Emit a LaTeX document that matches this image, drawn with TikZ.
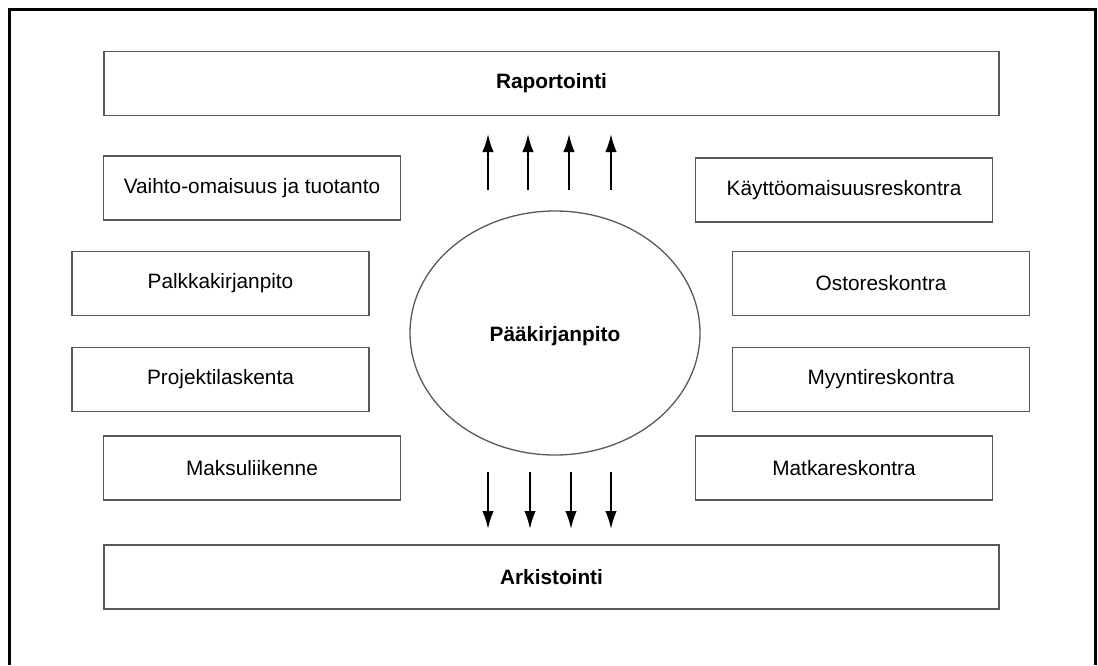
\documentclass[tikz,border=0pt]{standalone}
\usepackage{fontspec}
\setmainfont{Liberation Sans}
\usetikzlibrary{arrows.meta,shapes.geometric}

\begin{document}
\begin{tikzpicture}[x=1pt, y=-1pt, >={Latex[length=18pt,width=11.5pt]},
		txt/.style={font=\fontsize{20.8}{24}\selectfont},
		box/.style={txt, draw=black!65, line width=1.3pt, inner sep=0pt, minimum width=297pt, minimum height=64pt},
		wide/.style={box, minimum width=895pt, font=\fontsize{20.8}{24}\selectfont\bfseries},
		flow/.style={->, line width=2pt}]
		\useasboundingbox (0, 0) rectangle (1098, 665);
		\draw[line width=3pt] (9, 665) -- (9, 9) -- (1095, 9) -- (1095, 665);
		
		\node[wide] (raport) at (551.5, 83.5) {Raportointi};
		\node[wide] (arkist) at (551.5, 577) {Arkistointi};
		
		\node[box] (vaihto) at (252, 188) {Vaihto-omaisuus ja tuotanto};
		\node[box] (palkka) at (220.5, 283.5) {Palkkakirjanpito};
		\node[box] (projekti) at (220.5, 379.5) {Projektilaskenta};
		\node[box] (maksu) at (252, 468) {Maksuliikenne};
		
		\node[box] (kaytto) at (844, 190) {Käyttöomaisuusreskontra};
		\node[box] (osto) at (881, 283.5) {Ostoreskontra};
		\node[box] (myynti) at (881, 379.5) {Myyntireskontra};
		\node[box] (matka) at (844, 468) {Matkareskontra};
		
		\node[ellipse, draw=black!65, line width=1.3pt, minimum width=290pt, minimum height=244pt, inner sep=0pt,
			text height=21pt, text depth=5pt,
			font=\fontsize{20.8}{24}\selectfont\bfseries] (pk) at (555, 333) {Pääkirjanpito};
		
		\foreach \x [count=\i] in {488, 528, 569, 611} {
			\coordinate (up\i) at (\x, 190);
			\coordinate (upend\i) at (\x, 134);
			\draw[flow] (up\i) -- (upend\i);
		}
		\foreach \x [count=\i] in {488, 530, 571, 611} {
			\coordinate (down\i) at (\x, 472);
			\coordinate (downend\i) at (\x, 529);
			\draw[flow] (down\i) -- (downend\i);
		}
	\end{tikzpicture}
\end{document}
